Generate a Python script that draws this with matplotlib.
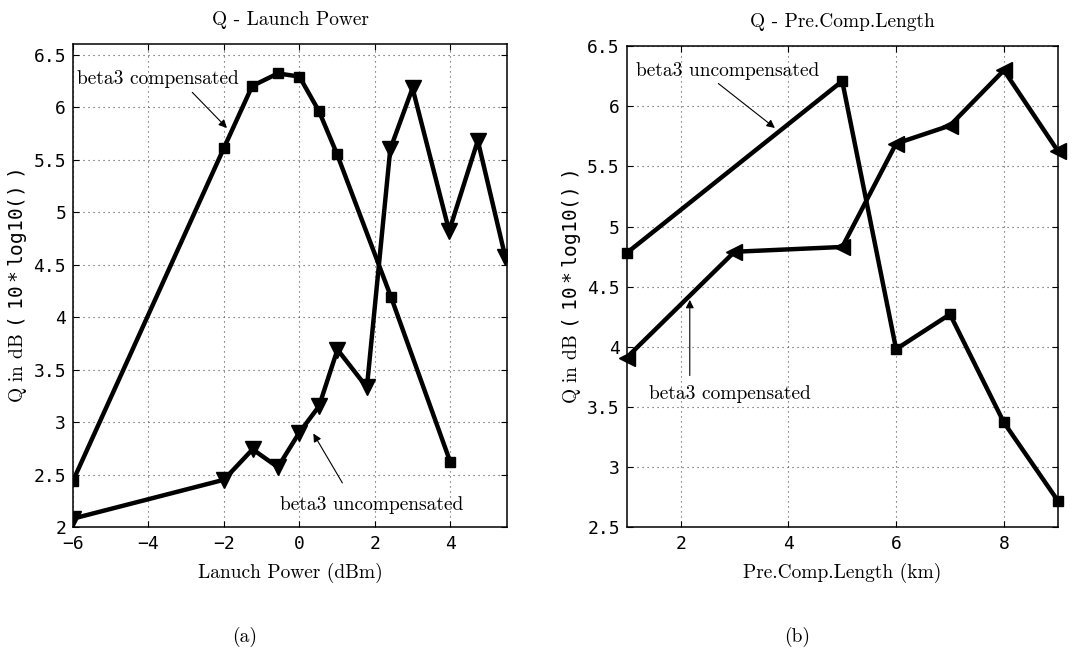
import matplotlib.pyplot as plt
import numpy as np

# (a) Q - Launch Power
lp_comp_x = [-6, -2, -1.25, -0.57, 0, 0.52, 1.0, 2.43, 4.0]
lp_comp_y = [2.44, 5.61, 6.20, 6.32, 6.29, 5.96, 5.55, 4.19, 2.62]
lp_uncomp_x = [-6, -2, -1.24, -0.57, 0, 0.52, 1.01, 1.79, 2.41, 3.0, 3.97, 4.73, 5.46]
lp_uncomp_y = [2.08, 2.45, 2.74, 2.57, 2.90, 3.15, 3.69, 3.33, 5.60, 6.18, 4.82, 5.68, 4.57]

# (b) Q - Pre.Comp.Length
pc_uncomp_x = [1, 5, 6, 7, 8, 9]
pc_uncomp_y = [4.78, 6.21, 3.98, 4.27, 3.37, 2.72]
pc_comp_x = [1, 3, 5, 6, 7, 8, 9]
pc_comp_y = [3.91, 4.79, 4.83, 5.69, 5.84, 6.30, 5.63]

lp_xticks = [-6, -4, -2, 0, 2, 4]
lp_yticks = [2, 2.5, 3, 3.5, 4, 4.5, 5, 5.5, 6, 6.5]
pc_xticks = [2, 4, 6, 8]
pc_yticks = [2.5, 3, 3.5, 4, 4.5, 5, 5.5, 6, 6.5]

plt.rcParams['font.family'] = ['cmr10', 'DejaVu Serif']
plt.rcParams['mathtext.fontset'] = 'custom'
plt.rcParams['mathtext.rm'] = 'cmr10'
plt.rcParams['mathtext.tt'] = 'DejaVu Sans Mono'
plt.rcParams['axes.unicode_minus'] = False

TICKFONT = {'family': 'DejaVu Sans Mono', 'size': 13}
LBL = 14
YLABEL = r'Q in dB $\mathtt{(\ 10*log10()\ )}$'


def fmt(v):
    # minus sign like the original, not a hyphen
    return ('%g' % v).replace('-', '\u2212')


def style_axes(ax, xlim, ylim, xticks, yticks):
    ax.set_xlim(*xlim)
    ax.set_ylim(*ylim)
    ax.set_xticks(xticks)
    ax.set_yticks(yticks)
    ax.set_xticklabels([fmt(v) for v in xticks], fontdict=TICKFONT)
    ax.set_yticklabels([fmt(v) for v in yticks], fontdict=TICKFONT)
    ax.tick_params(direction='in', top=True, right=True, length=4, width=0.8)
    ax.tick_params(axis='x', pad=6)
    ax.tick_params(axis='y', pad=5)
    ax.grid(True, linestyle=(0, (1, 3.5)), color='0.3', linewidth=0.8)
    for sp in ax.spines.values():
        sp.set_linewidth(1.1)
        sp.set_color('k')


fig = plt.figure(figsize=(10.9, 6.55), dpi=100)
ax1 = fig.add_axes([0.067, 0.1954, 0.398, 0.7374])
ax2 = fig.add_axes([0.575, 0.1954, 0.3954, 0.734])

arrow = dict(arrowstyle='-|>', color='k', lw=0.8, mutation_scale=12, shrinkA=0, shrinkB=0)

# ---- (a)
ax1.plot(lp_comp_x, lp_comp_y, color='k', lw=3.2, marker='s', ms=7, zorder=3)
ax1.plot(lp_uncomp_x, lp_uncomp_y, color='k', lw=3.2, marker='v', ms=11, zorder=3)
style_axes(ax1, (-6, 5.5), (2, 6.6), lp_xticks, lp_yticks)
ax1.set_title('Q - Launch Power', fontsize=LBL, pad=14)
ax1.set_xlabel('Lanuch Power (dBm)', fontsize=LBL, labelpad=7)
ax1.set_ylabel(YLABEL, fontsize=LBL, labelpad=3)
ax1.text(-5.89, 6.27, 'beta3 compensated', fontsize=LBL, va='center', ha='left')
ax1.annotate('', xy=(-1.92, 5.80), xytext=(-2.84, 6.14), arrowprops=arrow)
ax1.text(-0.51, 2.21, 'beta3 uncompensated', fontsize=LBL, va='center', ha='left')
ax1.annotate('', xy=(0.37, 2.89), xytext=(1.14, 2.42), arrowprops=arrow)

# ---- (b)
ax2.plot(pc_uncomp_x, pc_uncomp_y, color='k', lw=3.2, marker='s', ms=7, zorder=3, clip_on=False)
ax2.plot(pc_comp_x, pc_comp_y, color='k', lw=3.2, marker='<', ms=11, zorder=3, clip_on=False)
style_axes(ax2, (1, 9), (2.5, 6.5), pc_xticks, pc_yticks)
ax2.set_title('Q - Pre.Comp.Length', fontsize=LBL, pad=14)
ax2.set_xlabel('Pre.Comp.Length (km)', fontsize=LBL, labelpad=7)
ax2.set_ylabel(YLABEL, fontsize=LBL, labelpad=3)
ax2.text(1.17, 6.29, 'beta3 uncompensated', fontsize=LBL, va='center', ha='left')
ax2.annotate('', xy=(3.75, 5.82), xytext=(2.70, 6.19), arrowprops=arrow)
ax2.text(1.41, 3.61, 'beta3 compensated', fontsize=LBL, va='center', ha='left')
ax2.annotate('', xy=(2.17, 4.39), xytext=(2.17, 3.76), arrowprops=arrow)

fig.text(245 / 1090, 1 - 637 / 655, '(a)', fontsize=LBL, ha='center', va='center')
fig.text(797 / 1090, 1 - 637 / 655, '(b)', fontsize=LBL, ha='center', va='center')

fig.savefig('out.png', dpi=100)
